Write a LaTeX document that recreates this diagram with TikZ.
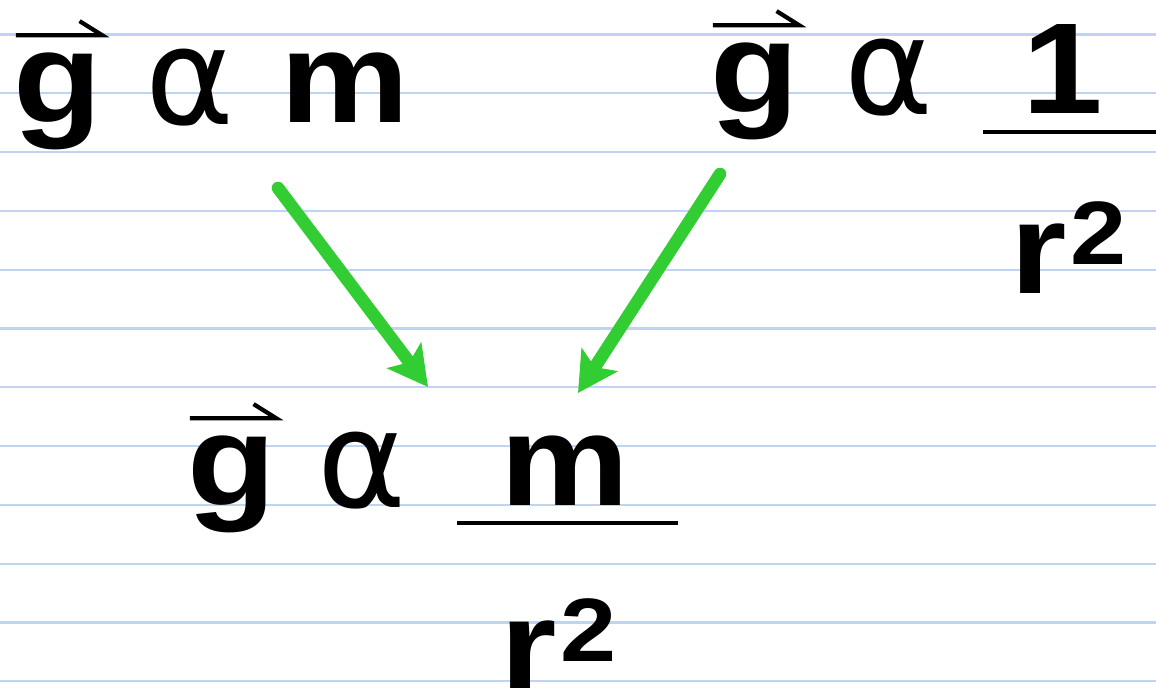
\documentclass[tikz,border=0pt]{standalone}
\usepackage{fontspec}
\setmainfont[FakeStretch=1.12]{Liberation Sans}
\newfontfamily\alphafont{DejaVu Sans}
\usetikzlibrary{arrows.meta,positioning}
\definecolor{ruleblue}{RGB}{192,212,242}
\definecolor{arrowgreen}{RGB}{50,205,50}

\begin{document}
\begin{tikzpicture}[x=0.025cm,y=-0.025cm,
  sym/.style={font=\fontsize{92}{92}\selectfont\bfseries,inner sep=0,anchor=base west},
  prop/.style={font=\fontsize{96}{96}\selectfont\alphafont,inner sep=0,anchor=base west},
  sqr/.style={font=\fontsize{64}{64}\selectfont\bfseries,inner sep=0,anchor=base west},
  rule/.style={draw=ruleblue,line width=1.6pt},
  vecbar/.style={line width=3pt,line join=miter},
  bar/.style={line width=3pt},
  link/.style={draw=arrowgreen,line width=9pt,line cap=round,
    -{Stealth[length=28pt,width=30pt,inset=6pt]}}]

\useasboundingbox (0,0) rectangle (1156,687);

% Ruled paper
\foreach \k in {0,...,11}
  \draw[rule] (0,34.5+58.8*\k) -- (1156,34.5+58.8*\k);

% Top left
\node[sym] (g1) at (13,122) {g};
\node[prop] (a1) at (145,124) {α};
\node[sym] (m1) at (280,122) {m};
\draw[vecbar] ([shift={(2pt,12pt)}]g1.north west)
  -- ([shift={(0pt,12pt)}]g1.north east) -- ++(-16pt,10pt);

% Top right
\node[sym] (g2) at (710,112) {g};
\node[prop] (a2) at (844,114) {α};
\node[sym] (one2) at (1022,113) {1};
\draw[bar] (983,132) -- (1160,132);
\node[sym] (r2) at (1010,293) {r};
\node[sqr] (sq2) at ([xshift=2pt,yshift=20pt]r2.base east) {2};
\draw[vecbar] ([shift={(2pt,12pt)}]g2.north west)
  -- ([shift={(0pt,12pt)}]g2.north east) -- ++(-16pt,10pt);

% Bottom
\node[sym] (g3) at (187,505) {g};
\node[prop] (a3) at (317,507) {α};
\node[sym] (m3) at (500,505) {m};
\draw[bar] (457,523) -- (678,523);
\node[sym] (r3) at (500,690) {r};
\node[sqr] (sq3) at ([xshift=2pt,yshift=20pt]r3.base east) {2};
\draw[vecbar] ([shift={(2pt,12pt)}]g3.north west)
  -- ([shift={(0pt,12pt)}]g3.north east) -- ++(-16pt,10pt);

% Arrows
\coordinate (from1) at (278,188);
\coordinate (to1) at (428,387);
\coordinate (from2) at (720,174);
\coordinate (to2) at (578,393);
\draw[link] (from1) -- (to1);
\draw[link] (from2) -- (to2);
\end{tikzpicture}
\end{document}
